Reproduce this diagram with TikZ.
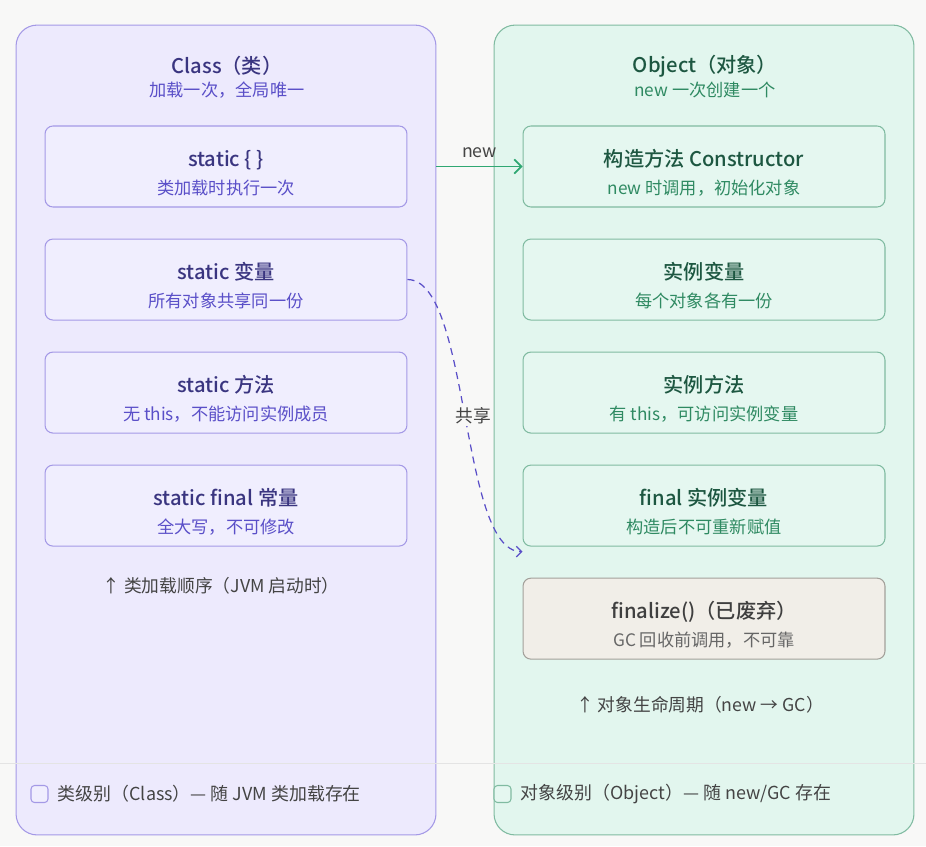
\documentclass[tikz,border=0pt]{standalone}
\usepackage{fontspec}
\setmainfont{Noto Sans CJK SC}[BoldFont={Noto Sans CJK SC Medium}]
\usepackage{tikz}
\usetikzlibrary{arrows.meta,calc,positioning}
\usepackage{xcolor}
\definecolor{bgcol}{HTML}{F8F8F7}
\definecolor{clsfill}{HTML}{EDEAFD}
\definecolor{clsbg}{HTML}{F0EEFE}
\definecolor{clsline}{HTML}{A499E6}
\definecolor{clsink}{HTML}{3A3580}
\definecolor{clssub}{HTML}{5A4FC8}
\definecolor{objfill}{HTML}{E2F6EE}
\definecolor{objbg}{HTML}{E5F7F0}
\definecolor{objline}{HTML}{80BBA1}
\definecolor{objink}{HTML}{1D5741}
\definecolor{objsub}{HTML}{2F8A62}
\definecolor{oldfill}{HTML}{F1EEE8}
\definecolor{oldline}{HTML}{A3A09A}
\definecolor{oldink}{HTML}{3F3F3F}
\definecolor{oldsub}{HTML}{666666}
\definecolor{newgreen}{HTML}{2FA772}
\definecolor{notegray}{HTML}{444444}
\definecolor{sepgray}{HTML}{E4E4E4}
\newcommand{\headfont}{\bfseries\fontsize{11.5}{14}\selectfont}
\newcommand{\subfont}{\fontsize{9.8}{12}\selectfont}
\newcommand{\subcol}{black}
\newcommand{\bx}[2]{\rule{0pt}{17pt}{\headfont #1}\\[4pt]{\subfont\color{\subcol}#2}}
\tikzset{panel/.style={line width=.6pt,rounded corners=12pt,minimum width=8.4cm,minimum height=16.2cm},
clspanel/.style={panel,draw=clsline,fill=clsfill},objpanel/.style={panel,draw=objline,fill=objfill},
card/.style={line width=.6pt,rounded corners=4.5pt,minimum width=7.24cm,minimum height=1.62cm,align=center,inner sep=0pt},
clsbox/.style={card,draw=clsline,fill=clsbg,text=clsink,execute at begin node={\def\subcol{clssub}}},
objbox/.style={card,draw=objline,fill=objbg,text=objink,execute at begin node={\def\subcol{objsub}}},
oldbox/.style={card,draw=oldline,fill=oldfill,text=oldink,execute at begin node={\def\subcol{oldsub}}},
paneltitle/.style={font=\headfont},panelsub/.style={font=\subfont},
note/.style={font=\fontsize{10.1}{12}\selectfont,text=notegray},
keybox/.style={rounded corners=2pt,minimum size=.34cm,inner sep=0pt,line width=.6pt},
keytext/.style={font=\fontsize{10.2}{12}\selectfont,text=notegray,inner sep=0pt},
newarrow/.style={draw=newgreen,line width=1pt,-{Straight Barb[length=4pt,width=8pt]}},
sharearrow/.style={draw=clssub,line width=.7pt,dash pattern=on 4pt off 3pt,-{Straight Barb[length=3pt,width=6pt]}},
sepline/.style={draw=sepgray,line width=.5pt},
node distance=.62cm}

\begin{document}
\begin{tikzpicture}[x=0.02cm,y=-0.02cm]
\fill[bgcol] (0,0) rectangle (926,846);
\useasboundingbox (0,0) rectangle (926,846);
% two panels
\node[clspanel] (clsp) at (226,430) {};
\node[objpanel] (objp) at (704,430) {};
\node[paneltitle,text=clsink] (clstitle) at (227,66) {Class（类）};
\node[panelsub,text=clssub] (clssubt) at (227,90) {加载一次，全局唯一};
\node[paneltitle,text=objink] (objtitle) at (705,66) {Object（对象）};
\node[panelsub,text=objsub] (objsubt) at (705,90) {new 一次创建一个};
% class members
\node[clsbox] (sblock) at (226,166.5) {\bx{static \{ \}}{类加载时执行一次}};
\node[clsbox,below=of sblock] (svar) {\bx{static 变量}{所有对象共享同一份}};
\node[clsbox,below=of svar] (smeth) {\bx{static 方法}{无 this，不能访问实例成员}};
\node[clsbox,below=of smeth] (sconst) {\bx{static final 常量}{全大写，不可修改}};
\node[note] (clsorder) at (221,586) {↑ 类加载顺序（JVM 启动时）};
% object members
\node[objbox] (ctor) at (704,166.5) {\bx{构造方法 Constructor}{new 时调用，初始化对象}};
\node[objbox,below=of ctor] (ivar) {\bx{实例变量}{每个对象各有一份}};
\node[objbox,below=of ivar] (imeth) {\bx{实例方法}{有 this，可访问实例变量}};
\node[objbox,below=of imeth] (fvar) {\bx{final 实例变量}{构造后不可重新赋值}};
\node[oldbox,below=of fvar] (fin) {\bx{finalize()（已废弃）}{GC 回收前调用，不可靠}};
\node[note] (objlife) at (700,705) {↑ 对象生命周期（new → GC）};
% links
\draw[newarrow] (ctor.west -| clsp.east) -- (ctor.west) node[midway,above=1pt,note] (newlbl) {new};
\coordinate (shareend) at ($(fvar.south west)+(0,5)$);
\draw[sharearrow] (svar.east) .. controls +(63,0) and +(-63,0) .. (shareend)
  node[pos=.5,xshift=.16cm,note,fill=bgcol,inner sep=1pt] (sharelbl) {共享};
% legend
\draw[sepline] (0,763) -- (926,763);
\node[keybox,draw=clsline,fill=clsbg] (clskey) at (39.5,794) {};
\node[keytext,right=.18cm of clskey] (clskeytxt) {类级别（Class）— 随 JVM 类加载存在};
\node[keybox,draw=objline,fill=objbg] (objkey) at (502.5,794) {};
\node[keytext,right=.18cm of objkey] (objkeytxt) {对象级别（Object）— 随 new/GC 存在};
\end{tikzpicture}
\end{document}
